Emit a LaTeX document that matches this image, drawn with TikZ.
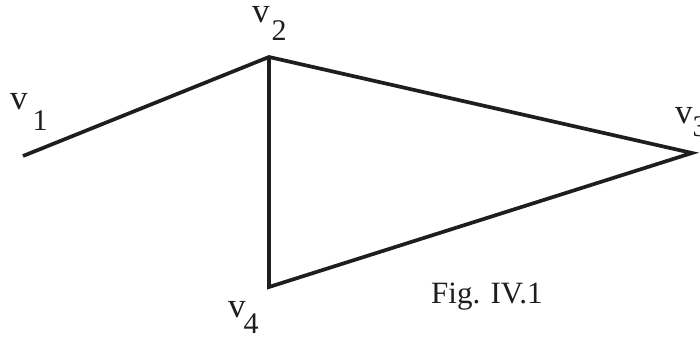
\documentclass[tikz,border=0pt]{standalone}
\usepackage{fontspec}
\setmainfont{Liberation Serif}
\definecolor{ink}{HTML}{1E1E1E}
\newcommand{\sbd}[1]{{\fontsize{30}{36}\selectfont #1}}
\begin{document}
\begin{tikzpicture}[x=1pt,y=-1pt,
  edge/.style={draw=ink,line width=3.7pt,line join=miter},
  lab/.style={text=ink,inner sep=0pt,anchor=base west,font=\fontsize{35}{40}\selectfont},
  figcaption/.style={text=ink,inner sep=0pt,anchor=base west,font=\fontsize{31}{36}\selectfont}]
\useasboundingbox[fill=white] (0,0) rectangle (700,338);
\coordinate (v1) at (23,156);
\coordinate (v2) at (269,57);
\coordinate (v3) at (692,153);
\coordinate (v4) at (269,287);
\draw[edge] (v1) -- (v2) -- (v3) -- (v4) -- (v2);
\node[lab] (l1) at (10,109) {v\kern5pt\raisebox{-21pt}{\sbd{1}}};
\node[lab] (l2) at (252,22) {v\kern2pt\raisebox{-18pt}{\sbd{2}}};
\node[lab] (l3) at (675,123) {v\kern0pt\raisebox{-13pt}{\sbd{3}}};
\node[lab] (l4) at (228,317) {v\kern-2pt\raisebox{-16pt}{\sbd{4}}};
\node[figcaption] (fig) at (431,303) {Fig. IV.1};
\end{tikzpicture}
\end{document}
